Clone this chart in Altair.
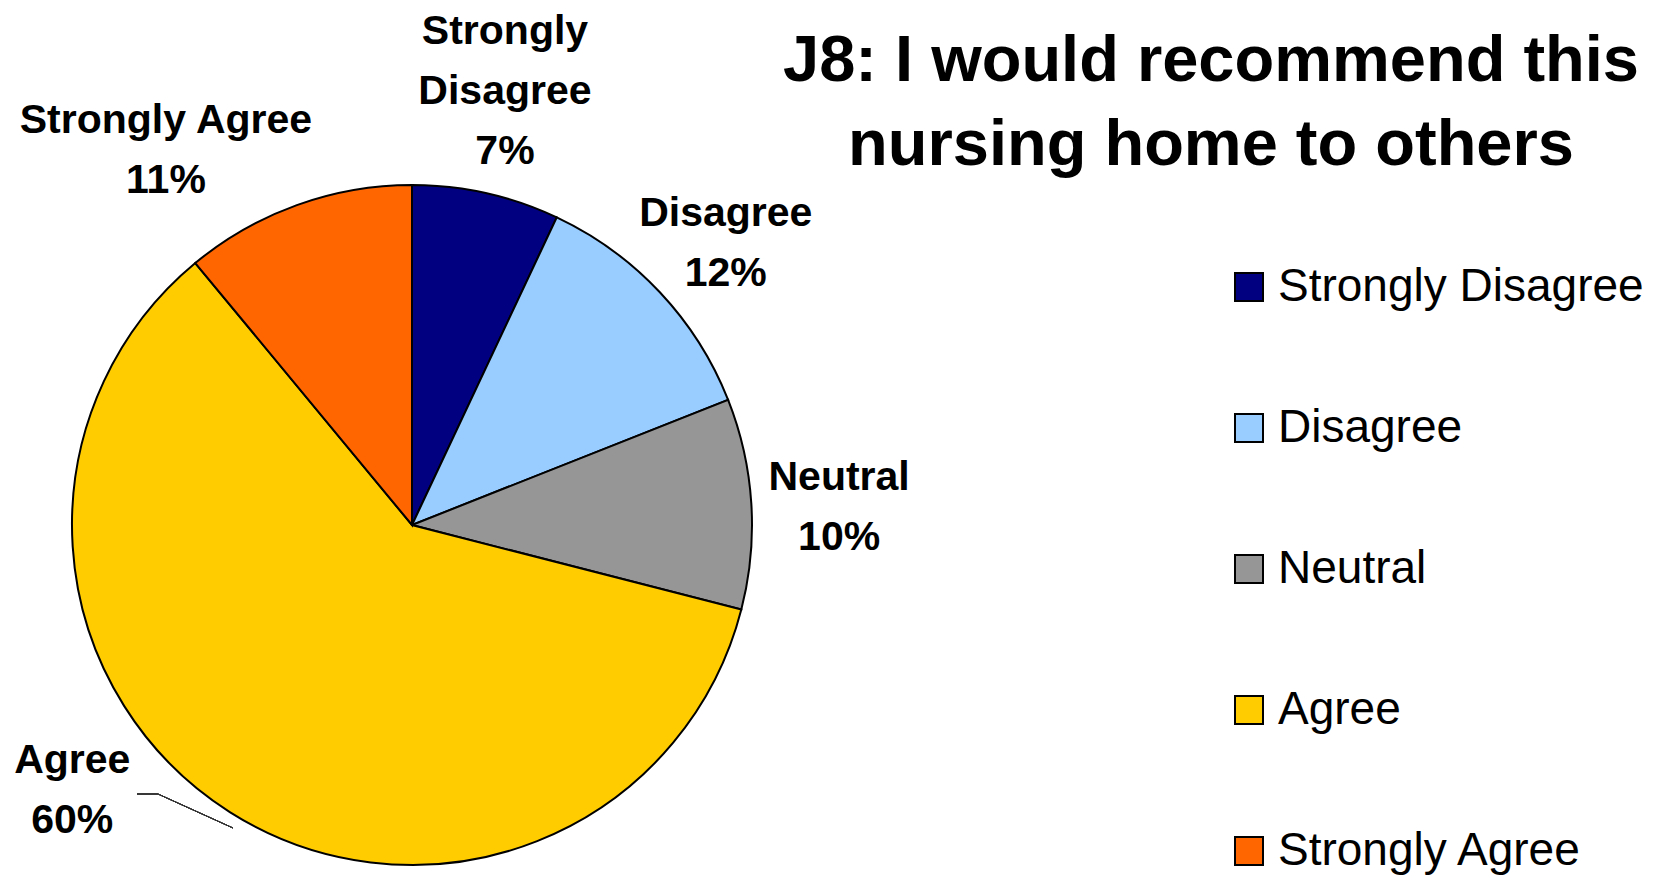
import altair as alt
import pandas as pd

categories = ["Strongly Disagree", "Disagree", "Neutral", "Agree", "Strongly Agree"]
values = [7, 12, 10, 60, 11]
colors = ["#000080", "#99CCFF", "#969696", "#FFCC00", "#FF6600"]
label_names = ["Strongly\nDisagree", "Disagree", "Neutral", "Agree", "Strongly Agree"]
title_lines = ["J8: I would recommend this", "nursing home to others"]

df = pd.DataFrame({
    "cat": categories,
    "value": values,
    "idx": list(range(len(categories))),
    "label": [f"{n}\n{v}%" for n, v in zip(label_names, values)],
})

FONT = "Liberation Sans"
CX, CY = 404, 517
R = 340

# label nudges (pixels) from the slice mid-angle anchor, like Excel "best fit"
nudges = {
    "Strongly Disagree": (-3, -64),
    "Disagree": (-7, -10),
    "Neutral": (-12, -19),
    "Agree": (-104, -136),
    "Strongly Agree": (-97, 10),
}

base = alt.Chart(df).encode(
    theta=alt.Theta("value:Q", stack=True),
    order=alt.Order("idx:Q"),
    x=alt.value(CX),
    y=alt.value(CY),
)

pie = base.mark_arc(outerRadius=R, stroke="black", strokeWidth=2).encode(
    color=alt.Color(
        "cat:N",
        scale=alt.Scale(domain=categories, range=colors),
        sort=categories,
        legend=alt.Legend(
            orient="none", legendX=1218, legendY=256, title=None,
            symbolType="square", symbolSize=784,
            symbolStrokeColor="black", symbolStrokeWidth=2,
            labelFontSize=46, labelFont=FONT, labelColor="black",
            labelOffset=6, rowPadding=95, labelLimit=600, padding=0,
        ),
    )
)

txt_kw = dict(font=FONT, fontSize=41, fontWeight="bold", color="black",
              lineBreak="\n", lineHeight=60, align="center", baseline="middle")

label_layers = []
for cat, (ddx, ddy) in nudges.items():
    label_layers.append(
        base.mark_text(radius=440, dx=ddx, dy=ddy, **txt_kw).encode(
            detail="cat:N",
            text=alt.condition(f"datum.cat == '{cat}'", "label:N", alt.value("")),
        )
    )

leader1 = alt.Chart(df).mark_rule(color="#333333", strokeWidth=1).encode(
    x=alt.value(129), x2=alt.value(150), y=alt.value(786), y2=alt.value(786))
leader2 = alt.Chart(df).mark_rule(color="#333333", strokeWidth=1).encode(
    x=alt.value(150), x2=alt.value(225), y=alt.value(786), y2=alt.value(820))

title = alt.Chart(pd.DataFrame({"t": [title_lines]})).mark_text(
    font=FONT, fontSize=65, fontWeight="bold", color="black",
    align="center", baseline="middle", lineHeight=84,
).encode(text="t", x=alt.value(1203), y=alt.value(53))

chart = alt.layer(pie, *label_layers, leader1, leader2, title).properties(
    width=1639, height=870, autosize=alt.AutoSizeParams(type="none"), padding=0,
).configure_view(stroke=None)

chart.save("out.html", embed_options={"renderer": "svg", "actions": False})
